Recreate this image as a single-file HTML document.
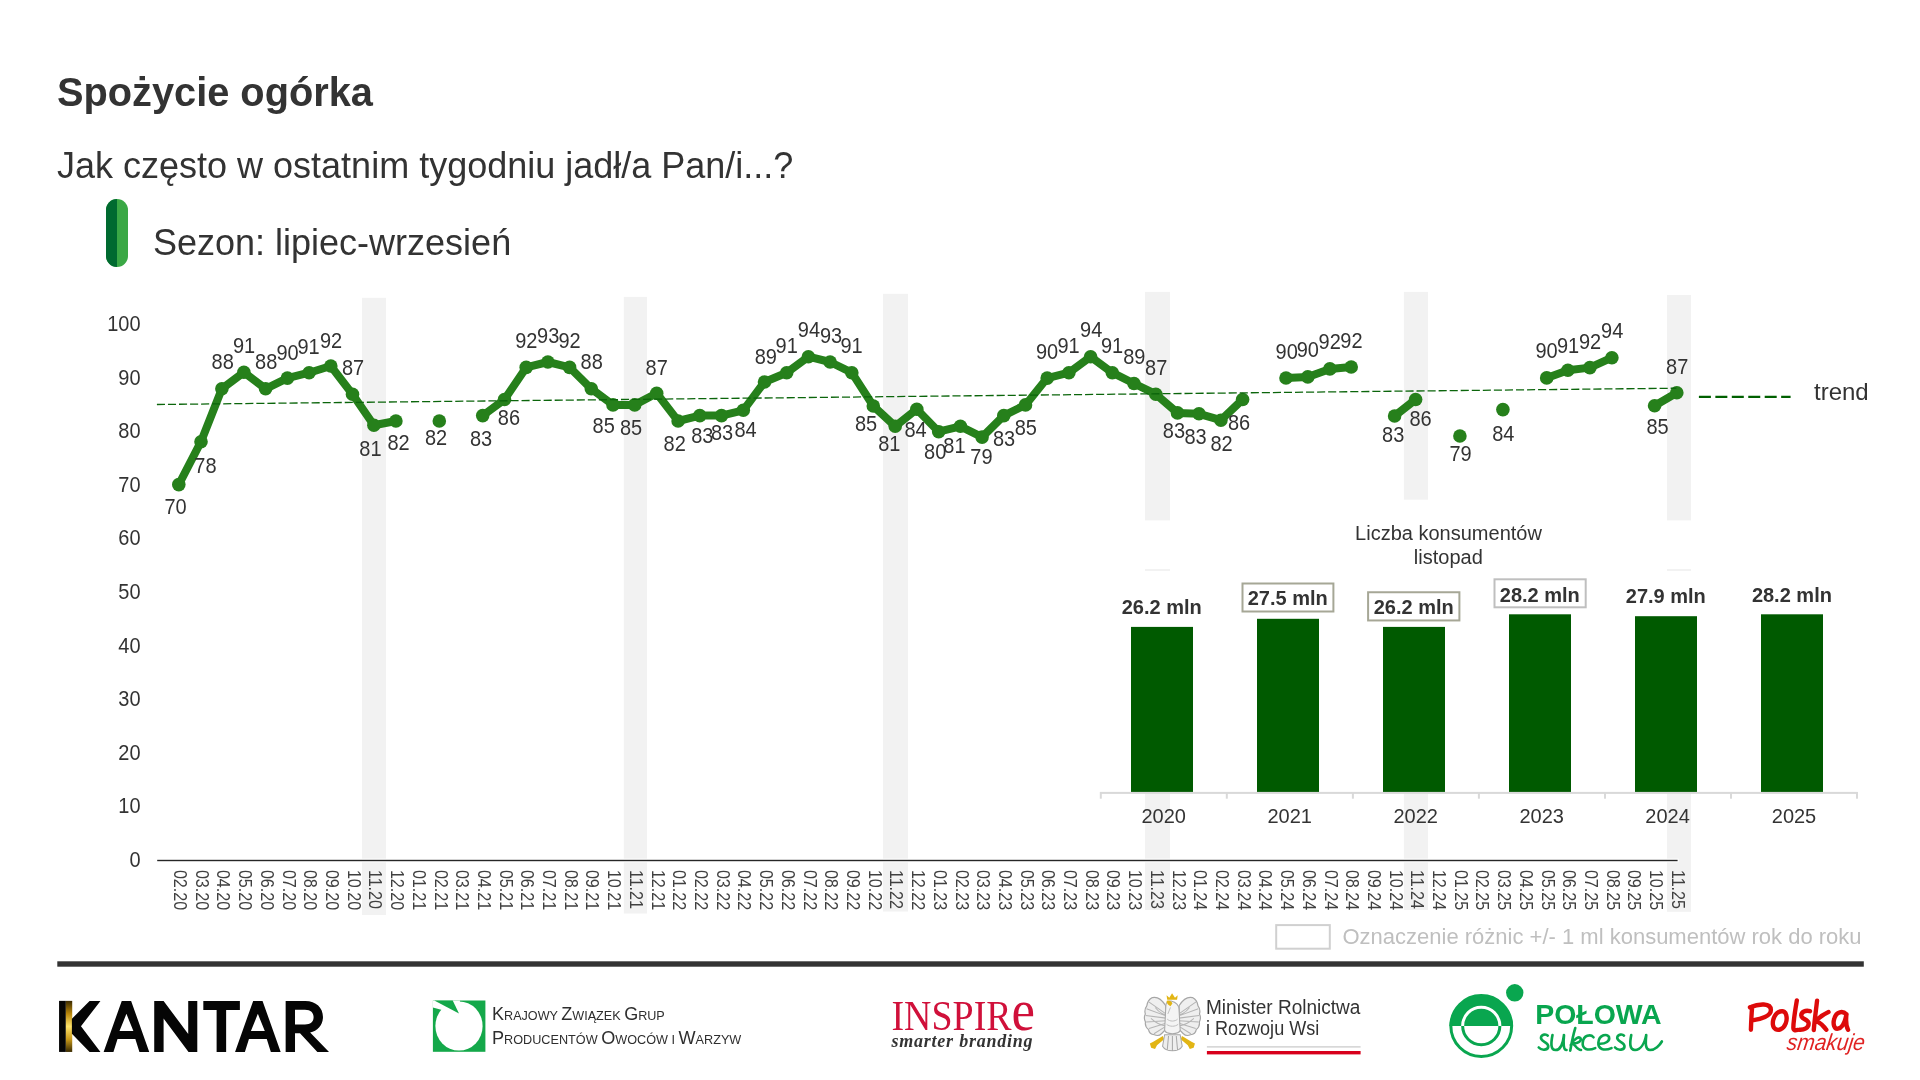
<!DOCTYPE html><html><head><meta charset="utf-8"><style>
html,body{margin:0;padding:0;background:#fff}
body{width:1920px;height:1080px;position:relative;overflow:hidden;font-family:"Liberation Sans", sans-serif;color:#333333}
.a{position:absolute;white-space:nowrap;line-height:1;will-change:transform}
svg{font-family:"Liberation Sans",sans-serif}
</style></head><body>
<div class="a" style="left:57px;top:73px;font-size:39.75px;font-weight:bold">Spożycie ogórka</div>
<div class="a" style="left:57px;top:148px;font-size:36px">Jak często w ostatnim tygodniu jadł/a Pan/i...?</div>
<div class="a" style="left:106px;top:199px;width:22px;height:68px;border-radius:11px;overflow:hidden;background:#3aa845"><div style="width:11px;height:68px;background:#006a30"></div></div>
<div class="a" style="left:153px;top:225px;font-size:36px">Sezon: lipiec-wrzesień</div>
<svg class="a" style="left:0;top:0" width="1920" height="1080" viewBox="0 0 1920 1080"><rect x="362.0" y="297.8" width="24.0" height="617.2" fill="#f2f2f2"/><rect x="623.8" y="296.9" width="23.2" height="616.6" fill="#f2f2f2"/><rect x="883.0" y="293.8" width="25.0" height="617.7" fill="#f2f2f2"/><rect x="1145.0" y="291.9" width="25.0" height="228.5" fill="#f2f2f2"/><rect x="1145.0" y="569" width="25.0" height="2.0" fill="#f2f2f2"/><rect x="1145.0" y="793" width="25.0" height="117.0" fill="#f2f2f2"/><rect x="1403.9" y="291.9" width="24.1" height="207.8" fill="#f2f2f2"/><rect x="1403.9" y="793" width="24.1" height="117.0" fill="#f2f2f2"/><rect x="1667.0" y="295" width="24.0" height="225.4" fill="#f2f2f2"/><rect x="1667.0" y="569" width="24.0" height="2.0" fill="#f2f2f2"/><rect x="1667.0" y="793" width="24.0" height="118.8" fill="#f2f2f2"/><rect x="150" y="858.6" width="1528.6" height="3.7" fill="#fff"/><rect x="157.2" y="859.8" width="1520.4" height="1.4" fill="#262626"/><text transform="translate(140.6,867.0) scale(1,1.06)" font-size="20" fill="#333333" text-anchor="end">0</text><text transform="translate(140.6,813.4) scale(1,1.06)" font-size="20" fill="#333333" text-anchor="end">10</text><text transform="translate(140.6,759.8) scale(1,1.06)" font-size="20" fill="#333333" text-anchor="end">20</text><text transform="translate(140.6,706.2) scale(1,1.06)" font-size="20" fill="#333333" text-anchor="end">30</text><text transform="translate(140.6,652.6) scale(1,1.06)" font-size="20" fill="#333333" text-anchor="end">40</text><text transform="translate(140.6,599.0) scale(1,1.06)" font-size="20" fill="#333333" text-anchor="end">50</text><text transform="translate(140.6,545.4) scale(1,1.06)" font-size="20" fill="#333333" text-anchor="end">60</text><text transform="translate(140.6,491.8) scale(1,1.06)" font-size="20" fill="#333333" text-anchor="end">70</text><text transform="translate(140.6,438.2) scale(1,1.06)" font-size="20" fill="#333333" text-anchor="end">80</text><text transform="translate(140.6,384.6) scale(1,1.06)" font-size="20" fill="#333333" text-anchor="end">90</text><text transform="translate(140.6,331.0) scale(1,1.06)" font-size="20" fill="#333333" text-anchor="end">100</text><text transform="translate(174.05,869.9) rotate(90) scale(0.92,1)" font-size="17.5" fill="#404040">02.20</text><text transform="translate(195.76,869.9) rotate(90) scale(0.92,1)" font-size="17.5" fill="#404040">03.20</text><text transform="translate(217.46,869.9) rotate(90) scale(0.92,1)" font-size="17.5" fill="#404040">04.20</text><text transform="translate(239.17,869.9) rotate(90) scale(0.92,1)" font-size="17.5" fill="#404040">05.20</text><text transform="translate(260.88,869.9) rotate(90) scale(0.92,1)" font-size="17.5" fill="#404040">06.20</text><text transform="translate(282.59,869.9) rotate(90) scale(0.92,1)" font-size="17.5" fill="#404040">07.20</text><text transform="translate(304.29,869.9) rotate(90) scale(0.92,1)" font-size="17.5" fill="#404040">08.20</text><text transform="translate(326.00,869.9) rotate(90) scale(0.92,1)" font-size="17.5" fill="#404040">09.20</text><text transform="translate(347.71,869.9) rotate(90) scale(0.92,1)" font-size="17.5" fill="#404040">10.20</text><text transform="translate(369.41,869.9) rotate(90) scale(0.92,1)" font-size="17.5" fill="#404040">11.20</text><text transform="translate(391.12,869.9) rotate(90) scale(0.92,1)" font-size="17.5" fill="#404040">12.20</text><text transform="translate(412.83,869.9) rotate(90) scale(0.92,1)" font-size="17.5" fill="#404040">01.21</text><text transform="translate(434.53,869.9) rotate(90) scale(0.92,1)" font-size="17.5" fill="#404040">02.21</text><text transform="translate(456.24,869.9) rotate(90) scale(0.92,1)" font-size="17.5" fill="#404040">03.21</text><text transform="translate(477.95,869.9) rotate(90) scale(0.92,1)" font-size="17.5" fill="#404040">04.21</text><text transform="translate(499.66,869.9) rotate(90) scale(0.92,1)" font-size="17.5" fill="#404040">05.21</text><text transform="translate(521.36,869.9) rotate(90) scale(0.92,1)" font-size="17.5" fill="#404040">06.21</text><text transform="translate(543.07,869.9) rotate(90) scale(0.92,1)" font-size="17.5" fill="#404040">07.21</text><text transform="translate(564.78,869.9) rotate(90) scale(0.92,1)" font-size="17.5" fill="#404040">08.21</text><text transform="translate(586.48,869.9) rotate(90) scale(0.92,1)" font-size="17.5" fill="#404040">09.21</text><text transform="translate(608.19,869.9) rotate(90) scale(0.92,1)" font-size="17.5" fill="#404040">10.21</text><text transform="translate(629.90,869.9) rotate(90) scale(0.92,1)" font-size="17.5" fill="#404040">11.21</text><text transform="translate(651.60,869.9) rotate(90) scale(0.92,1)" font-size="17.5" fill="#404040">12.21</text><text transform="translate(673.31,869.9) rotate(90) scale(0.92,1)" font-size="17.5" fill="#404040">01.22</text><text transform="translate(695.02,869.9) rotate(90) scale(0.92,1)" font-size="17.5" fill="#404040">02.22</text><text transform="translate(716.73,869.9) rotate(90) scale(0.92,1)" font-size="17.5" fill="#404040">03.22</text><text transform="translate(738.43,869.9) rotate(90) scale(0.92,1)" font-size="17.5" fill="#404040">04.22</text><text transform="translate(760.14,869.9) rotate(90) scale(0.92,1)" font-size="17.5" fill="#404040">05.22</text><text transform="translate(781.85,869.9) rotate(90) scale(0.92,1)" font-size="17.5" fill="#404040">06.22</text><text transform="translate(803.55,869.9) rotate(90) scale(0.92,1)" font-size="17.5" fill="#404040">07.22</text><text transform="translate(825.26,869.9) rotate(90) scale(0.92,1)" font-size="17.5" fill="#404040">08.22</text><text transform="translate(846.97,869.9) rotate(90) scale(0.92,1)" font-size="17.5" fill="#404040">09.22</text><text transform="translate(868.67,869.9) rotate(90) scale(0.92,1)" font-size="17.5" fill="#404040">10.22</text><text transform="translate(890.38,869.9) rotate(90) scale(0.92,1)" font-size="17.5" fill="#404040">11.22</text><text transform="translate(912.09,869.9) rotate(90) scale(0.92,1)" font-size="17.5" fill="#404040">12.22</text><text transform="translate(933.79,869.9) rotate(90) scale(0.92,1)" font-size="17.5" fill="#404040">01.23</text><text transform="translate(955.50,869.9) rotate(90) scale(0.92,1)" font-size="17.5" fill="#404040">02.23</text><text transform="translate(977.21,869.9) rotate(90) scale(0.92,1)" font-size="17.5" fill="#404040">03.23</text><text transform="translate(998.92,869.9) rotate(90) scale(0.92,1)" font-size="17.5" fill="#404040">04.23</text><text transform="translate(1020.62,869.9) rotate(90) scale(0.92,1)" font-size="17.5" fill="#404040">05.23</text><text transform="translate(1042.33,869.9) rotate(90) scale(0.92,1)" font-size="17.5" fill="#404040">06.23</text><text transform="translate(1064.04,869.9) rotate(90) scale(0.92,1)" font-size="17.5" fill="#404040">07.23</text><text transform="translate(1085.74,869.9) rotate(90) scale(0.92,1)" font-size="17.5" fill="#404040">08.23</text><text transform="translate(1107.45,869.9) rotate(90) scale(0.92,1)" font-size="17.5" fill="#404040">09.23</text><text transform="translate(1129.16,869.9) rotate(90) scale(0.92,1)" font-size="17.5" fill="#404040">10.23</text><text transform="translate(1150.87,869.9) rotate(90) scale(0.92,1)" font-size="17.5" fill="#404040">11.23</text><text transform="translate(1172.57,869.9) rotate(90) scale(0.92,1)" font-size="17.5" fill="#404040">12.23</text><text transform="translate(1194.28,869.9) rotate(90) scale(0.92,1)" font-size="17.5" fill="#404040">01.24</text><text transform="translate(1215.99,869.9) rotate(90) scale(0.92,1)" font-size="17.5" fill="#404040">02.24</text><text transform="translate(1237.69,869.9) rotate(90) scale(0.92,1)" font-size="17.5" fill="#404040">03.24</text><text transform="translate(1259.40,869.9) rotate(90) scale(0.92,1)" font-size="17.5" fill="#404040">04.24</text><text transform="translate(1281.11,869.9) rotate(90) scale(0.92,1)" font-size="17.5" fill="#404040">05.24</text><text transform="translate(1302.81,869.9) rotate(90) scale(0.92,1)" font-size="17.5" fill="#404040">06.24</text><text transform="translate(1324.52,869.9) rotate(90) scale(0.92,1)" font-size="17.5" fill="#404040">07.24</text><text transform="translate(1346.23,869.9) rotate(90) scale(0.92,1)" font-size="17.5" fill="#404040">08.24</text><text transform="translate(1367.93,869.9) rotate(90) scale(0.92,1)" font-size="17.5" fill="#404040">09.24</text><text transform="translate(1389.64,869.9) rotate(90) scale(0.92,1)" font-size="17.5" fill="#404040">10.24</text><text transform="translate(1411.35,869.9) rotate(90) scale(0.92,1)" font-size="17.5" fill="#404040">11.24</text><text transform="translate(1433.06,869.9) rotate(90) scale(0.92,1)" font-size="17.5" fill="#404040">12.24</text><text transform="translate(1454.76,869.9) rotate(90) scale(0.92,1)" font-size="17.5" fill="#404040">01.25</text><text transform="translate(1476.47,869.9) rotate(90) scale(0.92,1)" font-size="17.5" fill="#404040">02.25</text><text transform="translate(1498.18,869.9) rotate(90) scale(0.92,1)" font-size="17.5" fill="#404040">03.25</text><text transform="translate(1519.88,869.9) rotate(90) scale(0.92,1)" font-size="17.5" fill="#404040">04.25</text><text transform="translate(1541.59,869.9) rotate(90) scale(0.92,1)" font-size="17.5" fill="#404040">05.25</text><text transform="translate(1563.30,869.9) rotate(90) scale(0.92,1)" font-size="17.5" fill="#404040">06.25</text><text transform="translate(1585.01,869.9) rotate(90) scale(0.92,1)" font-size="17.5" fill="#404040">07.25</text><text transform="translate(1606.71,869.9) rotate(90) scale(0.92,1)" font-size="17.5" fill="#404040">08.25</text><text transform="translate(1628.42,869.9) rotate(90) scale(0.92,1)" font-size="17.5" fill="#404040">09.25</text><text transform="translate(1650.13,869.9) rotate(90) scale(0.92,1)" font-size="17.5" fill="#404040">10.25</text><text transform="translate(1671.83,869.9) rotate(90) scale(0.92,1)" font-size="17.5" fill="#404040">11.25</text><path d="M178.8,484.6 L201.0,441.7 L221.9,388.8 L243.9,372.2 L265.6,388.8 L287.4,378.1 L309.1,372.7 L330.8,366.0 L352.5,394.2 L373.9,425.2 L395.9,421.0" fill="none" stroke="#26801b" stroke-width="8" stroke-linejoin="round" stroke-linecap="round"/><path d="M482.7,415.6 L504.5,399.5 L526.2,367.4 L547.9,362.0 L569.6,367.4 L591.3,388.8 L613.0,404.9 L634.7,404.9 L656.7,393.3 L678.1,421.0 L699.8,415.6 L721.5,415.6 L743.3,410.3 L764.5,382.0 L786.7,372.7 L808.4,356.7 L830.1,362.0 L851.8,372.7 L873.3,406.0 L895.2,426.3 L916.8,409.2 L938.7,431.7 L960.4,426.3 L982.1,437.1 L1003.8,415.6 L1025.5,404.9 L1047.2,378.1 L1068.9,372.7 L1090.6,356.7 L1112.3,372.7 L1134.0,383.5 L1155.8,394.2 L1177.5,412.9 L1199.0,413.8 L1220.9,420.2 L1242.6,399.5" fill="none" stroke="#26801b" stroke-width="8" stroke-linejoin="round" stroke-linecap="round"/><path d="M1286.0,378.0 L1307.8,376.9 L1329.9,368.9 L1351.2,367.0" fill="none" stroke="#26801b" stroke-width="8" stroke-linejoin="round" stroke-linecap="round"/><path d="M1394.6,416.0 L1415.6,399.5" fill="none" stroke="#26801b" stroke-width="8" stroke-linejoin="round" stroke-linecap="round"/><path d="M1546.7,377.9 L1567.9,370.3 L1589.9,367.6 L1611.9,357.7" fill="none" stroke="#26801b" stroke-width="8" stroke-linejoin="round" stroke-linecap="round"/><path d="M1654.6,405.7 L1676.8,392.7" fill="none" stroke="#26801b" stroke-width="8" stroke-linejoin="round" stroke-linecap="round"/><circle cx="178.8" cy="484.6" r="6.8" fill="#26801b"/><circle cx="201.0" cy="441.7" r="6.8" fill="#26801b"/><circle cx="221.9" cy="388.8" r="6.8" fill="#26801b"/><circle cx="243.9" cy="372.2" r="6.8" fill="#26801b"/><circle cx="265.6" cy="388.8" r="6.8" fill="#26801b"/><circle cx="287.4" cy="378.1" r="6.8" fill="#26801b"/><circle cx="309.1" cy="372.7" r="6.8" fill="#26801b"/><circle cx="330.8" cy="366.0" r="6.8" fill="#26801b"/><circle cx="352.5" cy="394.2" r="6.8" fill="#26801b"/><circle cx="373.9" cy="425.2" r="6.8" fill="#26801b"/><circle cx="395.9" cy="421.0" r="6.8" fill="#26801b"/><circle cx="439.3" cy="421.0" r="6.8" fill="#26801b"/><circle cx="482.7" cy="415.6" r="6.8" fill="#26801b"/><circle cx="504.5" cy="399.5" r="6.8" fill="#26801b"/><circle cx="526.2" cy="367.4" r="6.8" fill="#26801b"/><circle cx="547.9" cy="362.0" r="6.8" fill="#26801b"/><circle cx="569.6" cy="367.4" r="6.8" fill="#26801b"/><circle cx="591.3" cy="388.8" r="6.8" fill="#26801b"/><circle cx="613.0" cy="404.9" r="6.8" fill="#26801b"/><circle cx="634.7" cy="404.9" r="6.8" fill="#26801b"/><circle cx="656.7" cy="393.3" r="6.8" fill="#26801b"/><circle cx="678.1" cy="421.0" r="6.8" fill="#26801b"/><circle cx="699.8" cy="415.6" r="6.8" fill="#26801b"/><circle cx="721.5" cy="415.6" r="6.8" fill="#26801b"/><circle cx="743.3" cy="410.3" r="6.8" fill="#26801b"/><circle cx="764.5" cy="382.0" r="6.8" fill="#26801b"/><circle cx="786.7" cy="372.7" r="6.8" fill="#26801b"/><circle cx="808.4" cy="356.7" r="6.8" fill="#26801b"/><circle cx="830.1" cy="362.0" r="6.8" fill="#26801b"/><circle cx="851.8" cy="372.7" r="6.8" fill="#26801b"/><circle cx="873.3" cy="406.0" r="6.8" fill="#26801b"/><circle cx="895.2" cy="426.3" r="6.8" fill="#26801b"/><circle cx="916.8" cy="409.2" r="6.8" fill="#26801b"/><circle cx="938.7" cy="431.7" r="6.8" fill="#26801b"/><circle cx="960.4" cy="426.3" r="6.8" fill="#26801b"/><circle cx="982.1" cy="437.1" r="6.8" fill="#26801b"/><circle cx="1003.8" cy="415.6" r="6.8" fill="#26801b"/><circle cx="1025.5" cy="404.9" r="6.8" fill="#26801b"/><circle cx="1047.2" cy="378.1" r="6.8" fill="#26801b"/><circle cx="1068.9" cy="372.7" r="6.8" fill="#26801b"/><circle cx="1090.6" cy="356.7" r="6.8" fill="#26801b"/><circle cx="1112.3" cy="372.7" r="6.8" fill="#26801b"/><circle cx="1134.0" cy="383.5" r="6.8" fill="#26801b"/><circle cx="1155.8" cy="394.2" r="6.8" fill="#26801b"/><circle cx="1177.5" cy="412.9" r="6.8" fill="#26801b"/><circle cx="1199.0" cy="413.8" r="6.8" fill="#26801b"/><circle cx="1220.9" cy="420.2" r="6.8" fill="#26801b"/><circle cx="1242.6" cy="399.5" r="6.8" fill="#26801b"/><circle cx="1286.0" cy="378.0" r="6.8" fill="#26801b"/><circle cx="1307.8" cy="376.9" r="6.8" fill="#26801b"/><circle cx="1329.9" cy="368.9" r="6.8" fill="#26801b"/><circle cx="1351.2" cy="367.0" r="6.8" fill="#26801b"/><circle cx="1394.6" cy="416.0" r="6.8" fill="#26801b"/><circle cx="1415.6" cy="399.5" r="6.8" fill="#26801b"/><circle cx="1459.9" cy="436.0" r="6.8" fill="#26801b"/><circle cx="1502.9" cy="409.6" r="6.8" fill="#26801b"/><circle cx="1546.7" cy="377.9" r="6.8" fill="#26801b"/><circle cx="1567.9" cy="370.3" r="6.8" fill="#26801b"/><circle cx="1589.9" cy="367.6" r="6.8" fill="#26801b"/><circle cx="1611.9" cy="357.7" r="6.8" fill="#26801b"/><circle cx="1654.6" cy="405.7" r="6.8" fill="#26801b"/><circle cx="1676.8" cy="392.7" r="6.8" fill="#26801b"/><line x1="156.9" y1="404.5" x2="1676.4" y2="388.2" stroke="#0b650b" stroke-width="1.3" stroke-dasharray="8.1 2.95"/><text transform="translate(175.6,513.9) scale(1,1.06)" font-size="20" fill="#333333" text-anchor="middle">70</text><text transform="translate(205.4,473.2) scale(1,1.06)" font-size="20" fill="#333333" text-anchor="middle">78</text><text transform="translate(222.7,368.8) scale(1,1.06)" font-size="20" fill="#333333" text-anchor="middle">88</text><text transform="translate(244.0,353.2) scale(1,1.06)" font-size="20" fill="#333333" text-anchor="middle">91</text><text transform="translate(266.2,368.8) scale(1,1.06)" font-size="20" fill="#333333" text-anchor="middle">88</text><text transform="translate(287.6,360.1) scale(1,1.06)" font-size="20" fill="#333333" text-anchor="middle">90</text><text transform="translate(308.5,353.8) scale(1,1.06)" font-size="20" fill="#333333" text-anchor="middle">91</text><text transform="translate(331.1,347.9) scale(1,1.06)" font-size="20" fill="#333333" text-anchor="middle">92</text><text transform="translate(353.0,375.2) scale(1,1.06)" font-size="20" fill="#333333" text-anchor="middle">87</text><text transform="translate(370.4,455.7) scale(1,1.06)" font-size="20" fill="#333333" text-anchor="middle">81</text><text transform="translate(398.5,449.8) scale(1,1.06)" font-size="20" fill="#333333" text-anchor="middle">82</text><text transform="translate(436.1,445.4) scale(1,1.06)" font-size="20" fill="#333333" text-anchor="middle">82</text><text transform="translate(481.1,446.1) scale(1,1.06)" font-size="20" fill="#333333" text-anchor="middle">83</text><text transform="translate(508.9,424.6) scale(1,1.06)" font-size="20" fill="#333333" text-anchor="middle">86</text><text transform="translate(526.3,348.2) scale(1,1.06)" font-size="20" fill="#333333" text-anchor="middle">92</text><text transform="translate(548.2,343.2) scale(1,1.06)" font-size="20" fill="#333333" text-anchor="middle">93</text><text transform="translate(569.6,348.2) scale(1,1.06)" font-size="20" fill="#333333" text-anchor="middle">92</text><text transform="translate(591.7,369.1) scale(1,1.06)" font-size="20" fill="#333333" text-anchor="middle">88</text><text transform="translate(603.7,433.4) scale(1,1.06)" font-size="20" fill="#333333" text-anchor="middle">85</text><text transform="translate(631.1,435.1) scale(1,1.06)" font-size="20" fill="#333333" text-anchor="middle">85</text><text transform="translate(656.7,375.2) scale(1,1.06)" font-size="20" fill="#333333" text-anchor="middle">87</text><text transform="translate(674.7,450.9) scale(1,1.06)" font-size="20" fill="#333333" text-anchor="middle">82</text><text transform="translate(702.3,443.4) scale(1,1.06)" font-size="20" fill="#333333" text-anchor="middle">83</text><text transform="translate(722.0,440.4) scale(1,1.06)" font-size="20" fill="#333333" text-anchor="middle">83</text><text transform="translate(745.6,437.2) scale(1,1.06)" font-size="20" fill="#333333" text-anchor="middle">84</text><text transform="translate(765.8,363.8) scale(1,1.06)" font-size="20" fill="#333333" text-anchor="middle">89</text><text transform="translate(786.7,352.9) scale(1,1.06)" font-size="20" fill="#333333" text-anchor="middle">91</text><text transform="translate(808.9,337.2) scale(1,1.06)" font-size="20" fill="#333333" text-anchor="middle">94</text><text transform="translate(831.0,342.9) scale(1,1.06)" font-size="20" fill="#333333" text-anchor="middle">93</text><text transform="translate(851.5,353.4) scale(1,1.06)" font-size="20" fill="#333333" text-anchor="middle">91</text><text transform="translate(866.1,430.6) scale(1,1.06)" font-size="20" fill="#333333" text-anchor="middle">85</text><text transform="translate(889.3,451.4) scale(1,1.06)" font-size="20" fill="#333333" text-anchor="middle">81</text><text transform="translate(915.6,437.2) scale(1,1.06)" font-size="20" fill="#333333" text-anchor="middle">84</text><text transform="translate(935.2,458.8) scale(1,1.06)" font-size="20" fill="#333333" text-anchor="middle">80</text><text transform="translate(954.4,453.2) scale(1,1.06)" font-size="20" fill="#333333" text-anchor="middle">81</text><text transform="translate(981.4,463.9) scale(1,1.06)" font-size="20" fill="#333333" text-anchor="middle">79</text><text transform="translate(1004.0,445.7) scale(1,1.06)" font-size="20" fill="#333333" text-anchor="middle">83</text><text transform="translate(1025.8,435.1) scale(1,1.06)" font-size="20" fill="#333333" text-anchor="middle">85</text><text transform="translate(1047.0,359.4) scale(1,1.06)" font-size="20" fill="#333333" text-anchor="middle">90</text><text transform="translate(1068.5,352.9) scale(1,1.06)" font-size="20" fill="#333333" text-anchor="middle">91</text><text transform="translate(1091.2,337.2) scale(1,1.06)" font-size="20" fill="#333333" text-anchor="middle">94</text><text transform="translate(1112.0,352.9) scale(1,1.06)" font-size="20" fill="#333333" text-anchor="middle">91</text><text transform="translate(1134.3,363.8) scale(1,1.06)" font-size="20" fill="#333333" text-anchor="middle">89</text><text transform="translate(1156.2,375.2) scale(1,1.06)" font-size="20" fill="#333333" text-anchor="middle">87</text><text transform="translate(1173.9,438.2) scale(1,1.06)" font-size="20" fill="#333333" text-anchor="middle">83</text><text transform="translate(1195.6,443.7) scale(1,1.06)" font-size="20" fill="#333333" text-anchor="middle">83</text><text transform="translate(1221.5,451.2) scale(1,1.06)" font-size="20" fill="#333333" text-anchor="middle">82</text><text transform="translate(1239.0,429.6) scale(1,1.06)" font-size="20" fill="#333333" text-anchor="middle">86</text><text transform="translate(1286.7,359.2) scale(1,1.06)" font-size="20" fill="#333333" text-anchor="middle">90</text><text transform="translate(1307.8,357.2) scale(1,1.06)" font-size="20" fill="#333333" text-anchor="middle">90</text><text transform="translate(1329.7,349.2) scale(1,1.06)" font-size="20" fill="#333333" text-anchor="middle">92</text><text transform="translate(1351.4,348.2) scale(1,1.06)" font-size="20" fill="#333333" text-anchor="middle">92</text><text transform="translate(1393.2,442.4) scale(1,1.06)" font-size="20" fill="#333333" text-anchor="middle">83</text><text transform="translate(1420.6,425.9) scale(1,1.06)" font-size="20" fill="#333333" text-anchor="middle">86</text><text transform="translate(1460.6,460.9) scale(1,1.06)" font-size="20" fill="#333333" text-anchor="middle">79</text><text transform="translate(1503.3,441.4) scale(1,1.06)" font-size="20" fill="#333333" text-anchor="middle">84</text><text transform="translate(1546.6,358.4) scale(1,1.06)" font-size="20" fill="#333333" text-anchor="middle">90</text><text transform="translate(1568.0,353.2) scale(1,1.06)" font-size="20" fill="#333333" text-anchor="middle">91</text><text transform="translate(1590.1,349.1) scale(1,1.06)" font-size="20" fill="#333333" text-anchor="middle">92</text><text transform="translate(1612.2,338.4) scale(1,1.06)" font-size="20" fill="#333333" text-anchor="middle">94</text><text transform="translate(1657.6,433.9) scale(1,1.06)" font-size="20" fill="#333333" text-anchor="middle">85</text><text transform="translate(1677.2,373.7) scale(1,1.06)" font-size="20" fill="#333333" text-anchor="middle">87</text><line x1="1698.9" y1="396.9" x2="1790.6" y2="396.9" stroke="#006000" stroke-width="2.3" stroke-dasharray="12 4.45"/><text x="1814" y="400.1" font-size="24" fill="#333333">trend</text><text x="1448.5" y="539.8" font-size="20" fill="#333333" text-anchor="middle">Liczba konsumentów</text><text x="1448.3" y="563.9" font-size="20" fill="#333333" text-anchor="middle">listopad</text><rect x="1131.0" y="626.9" width="62" height="165.1" fill="#005a00"/><rect x="1257.0" y="618.8" width="62" height="173.2" fill="#005a00"/><rect x="1383.0" y="626.9" width="62" height="165.1" fill="#005a00"/><rect x="1509.0" y="614.3" width="62" height="177.7" fill="#005a00"/><rect x="1635.0" y="616.2" width="62" height="175.8" fill="#005a00"/><rect x="1761.0" y="614.3" width="62" height="177.7" fill="#005a00"/><rect x="1100" y="791.9" width="757.5" height="2" fill="#d9d9d9"/><rect x="1099.8" y="792" width="2" height="6.7" fill="#d9d9d9"/><rect x="1225.8" y="792" width="2" height="6.7" fill="#d9d9d9"/><rect x="1351.9" y="792" width="2" height="6.7" fill="#d9d9d9"/><rect x="1477.9" y="792" width="2" height="6.7" fill="#d9d9d9"/><rect x="1604.0" y="792" width="2" height="6.7" fill="#d9d9d9"/><rect x="1730.0" y="792" width="2" height="6.7" fill="#d9d9d9"/><rect x="1856.0" y="792" width="2" height="6.7" fill="#d9d9d9"/><text transform="translate(1163.7,823.1) scale(1,1.05)" font-size="20" fill="#333333" text-anchor="middle">2020</text><text transform="translate(1289.7,823.1) scale(1,1.05)" font-size="20" fill="#333333" text-anchor="middle">2021</text><text transform="translate(1415.7,823.1) scale(1,1.05)" font-size="20" fill="#333333" text-anchor="middle">2022</text><text transform="translate(1541.7,823.1) scale(1,1.05)" font-size="20" fill="#333333" text-anchor="middle">2023</text><text transform="translate(1667.6,823.1) scale(1,1.05)" font-size="20" fill="#333333" text-anchor="middle">2024</text><text transform="translate(1794,823.1) scale(1,1.05)" font-size="20" fill="#333333" text-anchor="middle">2025</text><text x="1161.7" y="614.2" font-size="20" font-weight="bold" fill="#333333" text-anchor="middle">26.2 mln</text><rect x="1242.5" y="583.5" width="90.9" height="28.0" fill="#fff" stroke="#a6a796" stroke-width="2"/><text x="1287.7" y="605.4" font-size="20" font-weight="bold" fill="#333333" text-anchor="middle">27.5 mln</text><rect x="1368.1" y="592.25" width="91.3" height="28.2" fill="#fff" stroke="#a6a796" stroke-width="2"/><text x="1413.7" y="614.2" font-size="20" font-weight="bold" fill="#333333" text-anchor="middle">26.2 mln</text><rect x="1494.5" y="579.3" width="91.2" height="28.0" fill="#fff" stroke="#bfbfbf" stroke-width="2"/><text x="1539.8" y="601.7" font-size="20" font-weight="bold" fill="#333333" text-anchor="middle">28.2 mln</text><text x="1665.8" y="603.3" font-size="20" font-weight="bold" fill="#333333" text-anchor="middle">27.9 mln</text><text x="1791.9" y="601.7" font-size="20" font-weight="bold" fill="#333333" text-anchor="middle">28.2 mln</text><rect x="1276.2" y="925.1" width="53.6" height="23.6" fill="#fff" stroke="#d0d0d0" stroke-width="2"/><text x="1342.5" y="943.9" font-size="22" fill="#bfbfbf">Oznaczenie różnic +/- 1 ml konsumentów rok do roku</text><g transform="translate(50,990) scale(0.15106)"><defs><linearGradient id="kg" x1="0" y1="0" x2="0" y2="1"><stop offset="0" stop-color="#3a2a00"/><stop offset="0.25" stop-color="#b8860b"/><stop offset="0.5" stop-color="#ffe36a"/><stop offset="0.75" stop-color="#c99a1a"/><stop offset="1" stop-color="#3a2a00"/></linearGradient></defs><rect x="60" y="72" width="45" height="338" fill="#050505"/><rect x="105" y="72" width="42" height="338" fill="url(#kg)"/><path d="M145,190 L262,72 L334,72 L205,240 L334,410 L262,410 L145,290 Z" fill="#050505"/><path fill-rule="evenodd" d="M355,410 L475,72 L537,72 L657,410 L592,410 L565,325 L447,325 L420,410 Z M460,272 L506,158 L552,272 Z" fill="#050505"/><path d="M690,410 L690,72 L752,72 L915,292 L915,72 L975,72 L975,410 L917,410 L752,188 L752,410 Z" fill="#050505"/><path d="M1015,72 L1257,72 L1257,132 L1166,132 L1166,410 L1103,410 L1103,132 L1015,132 Z" fill="#050505"/><path fill-rule="evenodd" d="M1225,410 L1345,72 L1407,72 L1527,410 L1462,410 L1435,325 L1317,325 L1290,410 Z M1330,272 L1376,158 L1422,272 Z" fill="#050505"/><path fill-rule="evenodd" d="M1560,410 L1560,72 L1690,72 C1762,72 1807,117 1807,178 C1807,232 1772,272 1722,282 L1847,410 L1770,410 L1655,287 L1622,287 L1622,410 Z M1622,130 L1688,130 C1727,130 1745,150 1745,179 C1745,208 1727,228 1688,228 L1622,228 Z" fill="#050505"/></g><rect x="432.9" y="1000.5" width="52.5" height="51.3" fill="#14a84a"/><ellipse cx="459" cy="1026" rx="23.6" ry="24.6" fill="#fff"/><path d="M432.9,1000.5 L460,1000.5 L459,1013.4 L442.9,1010.2 L432.9,1007.6 Z" fill="#fff"/><path d="M434.3,1000.5 L452.7,1000.5 L459,1013.4 Z" fill="#14a84a"/><text x="492" y="1020" font-size="19" fill="#2e2e2e" textLength="172.8" lengthAdjust="spacingAndGlyphs">K<tspan font-size="13.3">RAJOWY </tspan>Z<tspan font-size="13.3">WIĄZEK </tspan>G<tspan font-size="13.3">RUP</tspan></text><text x="492" y="1044.1" font-size="19" fill="#2e2e2e" textLength="249.3" lengthAdjust="spacingAndGlyphs">P<tspan font-size="13.3">RODUCENTÓW </tspan>O<tspan font-size="13.3">WOCÓW I </tspan>W<tspan font-size="13.3">ARZYW</tspan></text><text x="891.5" y="1029.9" font-family="Liberation Serif" font-size="43" fill="#d0103a" textLength="143.5" lengthAdjust="spacingAndGlyphs">INSPIR<tspan font-size="60">e</tspan></text><text x="891.5" y="1046.7" font-family="Liberation Serif" font-style="italic" font-weight="bold" font-size="18" fill="#333" textLength="141" lengthAdjust="spacing">smarter branding</text><g transform="translate(1140,988) scale(0.0648)"><defs><g id="lw"><path d="M395,270 C335,175 265,130 190,148 Q115,190 105,275 Q62,330 82,400 Q52,462 84,525 Q72,595 132,642 Q142,712 222,722 Q285,752 335,702 L395,640 Z" fill="#efefef" stroke="#a6a6a6" stroke-width="18"/><path d="M400,400 L135,215 M400,430 L100,320 M400,465 L88,425 M400,505 L95,525 M400,545 L140,625 M410,585 L215,705 M235,300 C300,385 380,425 470,432 M170,470 C240,540 330,580 420,590" fill="none" stroke="#b4b4b4" stroke-width="16"/><path d="M352,742 L205,828 L152,858 L172,922 L232,942 L262,882 L372,792 Z" fill="#e2b514"/></g></defs><use href="#lw"/><use href="#lw" transform="translate(1000,0) scale(-1,1)"/><path d="M380,720 L620,720 L652,900 C602,992 398,992 348,900 Z M440,740 L420,960 M500,740 L500,975 M560,740 L580,960" fill="#eeeeee" stroke="#a8a8a8" stroke-width="16"/><path d="M400,262 C400,222 440,192 480,202 C540,217 600,262 602,332 L620,652 C600,722 400,722 380,652 Z" fill="#f4f4f4" stroke="#a8a8a8" stroke-width="16"/><path d="M420,480 C460,520 540,520 580,480 M410,560 C460,600 540,600 590,560 M470,300 L430,400" fill="none" stroke="#b8b8b8" stroke-width="14"/><path d="M410,112 L452,150 L495,80 L540,150 L582,112 L572,182 L420,182 Z" fill="#e2b514"/><path d="M410,200 C440,185 490,200 500,240 L470,282 C440,262 410,242 410,200 Z" fill="#e2b514"/></g><text x="1206" y="1014" font-size="19.5" fill="#333" textLength="154.4" lengthAdjust="spacingAndGlyphs">Minister Rolnictwa</text><text x="1206" y="1035" font-size="19.5" fill="#333" textLength="113.2" lengthAdjust="spacingAndGlyphs">i Rozwoju Wsi</text><rect x="1206.9" y="1046.3" width="153.7" height="1.2" fill="#c8c8c8"/><rect x="1206.9" y="1051" width="153.7" height="3.4" fill="#d8001c"/><path d="M1449.4,1026.1 A31.9,31.9 0 0 1 1513.1,1026.1 Z" fill="#09a64f"/><circle cx="1481.25" cy="1026" r="30.4" fill="none" stroke="#09a64f" stroke-width="3"/><circle cx="1481.25" cy="1025.8" r="18.6" fill="none" stroke="#fff" stroke-width="3"/><path d="M1462.65,1026.1 A18.6,18.6 0 0 0 1499.85,1026.1" fill="none" stroke="#09a64f" stroke-width="3"/><circle cx="1514.75" cy="992.8" r="8.7" fill="#09a64f"/><text x="1535.2" y="1024.3" font-size="28" font-weight="bold" fill="#09a64f" textLength="126.5" lengthAdjust="spacingAndGlyphs">POŁOWA</text><g transform="translate(1440,980) scale(0.125)" fill="none" stroke="#09a64f" stroke-width="21" stroke-linecap="round" stroke-linejoin="round"><path d="M790,540 C815,568 868,562 866,528 C864,494 800,492 808,458 C815,432 850,432 862,445"/><path d="M900,440 C888,500 882,560 925,560 C968,560 985,500 992,440 C986,500 986,560 1012,560"/><path d="M1082,385 C1062,450 1050,520 1042,565 M1046,520 C1072,468 1122,442 1126,472 C1130,502 1072,510 1062,505 C1082,522 1100,560 1128,560"/><path d="M1228,458 C1205,432 1148,440 1142,500 C1136,552 1182,570 1242,545"/><path d="M1282,510 C1322,510 1362,490 1352,456 C1342,426 1272,436 1267,500 C1262,552 1312,570 1372,545"/><path d="M1400,540 C1425,568 1478,562 1476,528 C1474,494 1410,492 1418,458 C1425,432 1460,432 1472,445"/><path d="M1530,440 C1518,500 1514,560 1560,560 C1608,560 1638,500 1650,440 C1644,500 1640,560 1680,560 C1720,560 1758,522 1775,492"/></g><g transform="translate(1735,990) scale(0.07294)" fill="none" stroke="#dd0a0a" stroke-width="60" stroke-linecap="round" stroke-linejoin="round"><path d="M218,545 C222,430 226,320 236,225 M205,238 C330,185 490,175 492,272 C494,360 350,400 255,412"/><path d="M640,292 C550,292 512,410 520,478 C528,540 580,556 622,540 C690,514 722,420 702,342 C692,302 662,288 640,292 Z"/><path d="M848,142 C828,262 800,420 800,518 C800,556 826,556 858,548"/><path d="M1028,290 C965,272 908,300 908,350 C908,402 1010,402 1010,460 C1010,520 948,548 885,545"/><path d="M1125,148 C1110,282 1090,420 1080,548 M1282,302 C1210,332 1140,392 1112,420 C1172,452 1220,500 1252,545"/><path d="M1528,332 C1478,282 1390,292 1362,390 C1337,470 1362,540 1412,530 C1472,520 1510,432 1528,332 C1518,422 1525,500 1550,545"/></g><text x="1786" y="1050.5" font-family="Liberation Sans" font-size="23" font-style="italic" fill="#dd0a0a" fill-opacity="0.9" textLength="78" lengthAdjust="spacingAndGlyphs" transform="translate(1786,1050.5) skewX(-8) translate(-1786,-1050.5)">smakuje</text><rect x="57.3" y="961.3" width="1806.5" height="5.4" fill="#333333"/></svg>
</body></html>
